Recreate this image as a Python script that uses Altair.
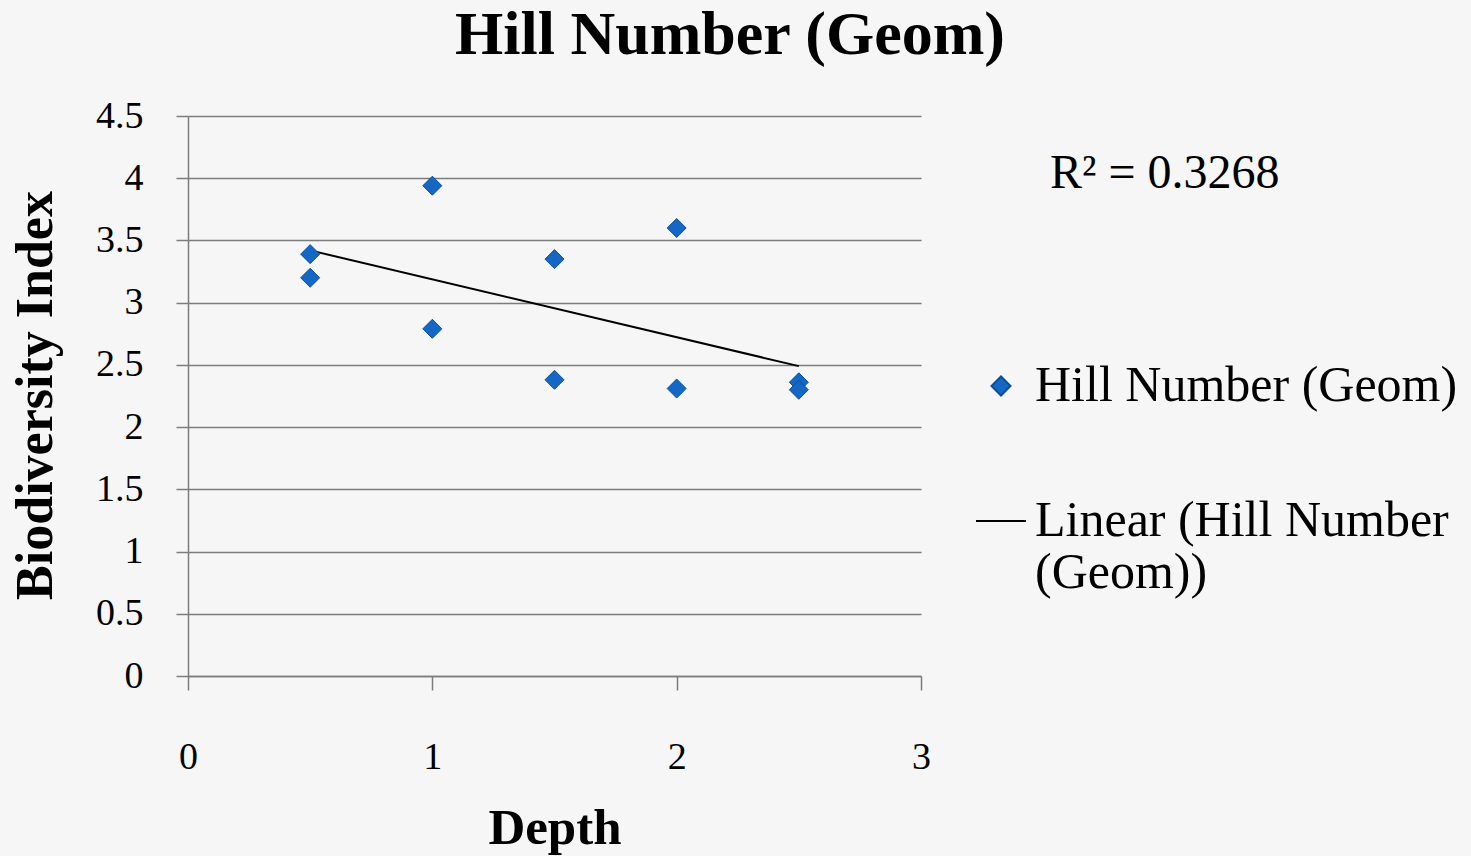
import altair as alt
import pandas as pd

# ---- data ----
depth = [0.5, 0.5, 1.0, 1.0, 1.5, 1.5, 2.0, 2.0, 2.5, 2.5]
hill = [3.39, 3.20, 3.94, 2.79, 3.35, 2.38, 3.60, 2.31, 2.36, 2.30]
trend_depth = [0.5, 2.5]
trend_value = [3.42, 2.49]
series_names = ["Hill Number (Geom)", "Linear (Hill Number (Geom))"]
y_ticks = [0, 0.5, 1, 1.5, 2, 2.5, 3, 3.5, 4, 4.5]
x_ticks = [0, 1, 2, 3]
r2_text = ["R² = 0.3268"]
title_text = ["Hill Number (Geom)"]

FONT = "Liberation Serif"
GRID = "#7c7c7c"
BLUE = "#1467c4"
BLUE_EDGE = "#0b4f9c"

pts = pd.DataFrame({"Depth": depth, "Value": hill, "Series": series_names[0]})
trend = pd.DataFrame({"Depth": trend_depth, "Value": trend_value, "Series": series_names[1]})
r2 = pd.DataFrame({"t": r2_text})
ttl = pd.DataFrame({"t": title_text})

leg = alt.Legend(
    title=None, orient="none", legendX=787, legendY=245,
    labelFont=FONT, labelFontSize=50, labelColor="black", labelLimit=700,
    labelOffset=8, rowPadding=84, symbolStrokeWidth=2, padding=0,
    labelExpr="datum.label == 'Linear (Hill Number (Geom))' ? ['Linear (Hill Number', '(Geom))'] : datum.label",
)

x_enc = alt.X(
    "Depth:Q",
    scale=alt.Scale(domain=[0, 3], nice=False, zero=True),
    axis=alt.Axis(
        values=x_ticks, format="~g", title="Depth", grid=False, labelFlush=False,
        tickSize=14, tickColor=GRID, tickWidth=1.5, domainColor=GRID, domainWidth=1.5,
        labelFont=FONT, labelFontSize=38, labelColor="black", labelPadding=48,
        titleFont=FONT, titleFontSize=51, titleFontWeight="bold", titleColor="black",
        titleY=152, titleBaseline="middle",
    ),
)
y_enc = alt.Y(
    "Value:Q",
    scale=alt.Scale(domain=[0, 4.5], nice=False, zero=True),
    axis=alt.Axis(
        values=y_ticks, format="~g", title="Biodiversity Index", grid=True, labelFlush=False,
        gridColor=GRID, gridWidth=1.5, gridOpacity=1,
        tickSize=12, tickColor=GRID, tickWidth=1.5, domainColor=GRID, domainWidth=1.5,
        labelFont=FONT, labelFontSize=38, labelColor="black", labelPadding=33,
        titleFont=FONT, titleFontSize=52, titleFontWeight="bold", titleColor="black",
        titleX=-153, titleY=279, titleAngle=270, titleBaseline="middle", titleAlign="center",
    ),
)

points = alt.Chart(pts).mark_point(filled=True, strokeWidth=1, opacity=1).encode(
    x=x_enc,
    y=y_enc,
    shape=alt.Shape("Series:N", scale=alt.Scale(domain=series_names, range=["diamond", "stroke"]), legend=leg),
    fill=alt.Fill("Series:N", scale=alt.Scale(domain=series_names, range=[BLUE, "#000000"]), legend=leg),
    stroke=alt.Stroke("Series:N", scale=alt.Scale(domain=series_names, range=[BLUE_EDGE, "#000000"]), legend=leg),
    size=alt.Size("Series:N", scale=alt.Scale(domain=series_names, range=[361, 2500]), legend=leg),
)

line = alt.Chart(trend).mark_line(strokeWidth=2).encode(
    x=x_enc,
    y=y_enc,
    stroke=alt.Stroke("Series:N", scale=alt.Scale(domain=series_names, range=[BLUE_EDGE, "#000000"]), legend=leg),
)

r2_label = alt.Chart(r2).mark_text(
    align="left", baseline="alphabetic", font=FONT, fontSize=48, color="black"
).encode(text="t:N", x=alt.value(862), y=alt.value(72))

title_label = alt.Chart(ttl).mark_text(
    align="center", baseline="alphabetic", font=FONT, fontSize=62, fontWeight="bold", color="black"
).encode(text="t:N", x=alt.value(542), y=alt.value(-62))

chart = alt.layer(line, points, r2_label, title_label).properties(
    width=733,
    height=560,
    autosize=alt.AutoSizeParams(type="none"),
    padding={"left": 188, "top": 116, "right": 550, "bottom": 180},
).configure(background="#f6f6f6").configure_view(stroke=None)

chart.save("out.html", embed_options={"renderer": "svg", "actions": False})
